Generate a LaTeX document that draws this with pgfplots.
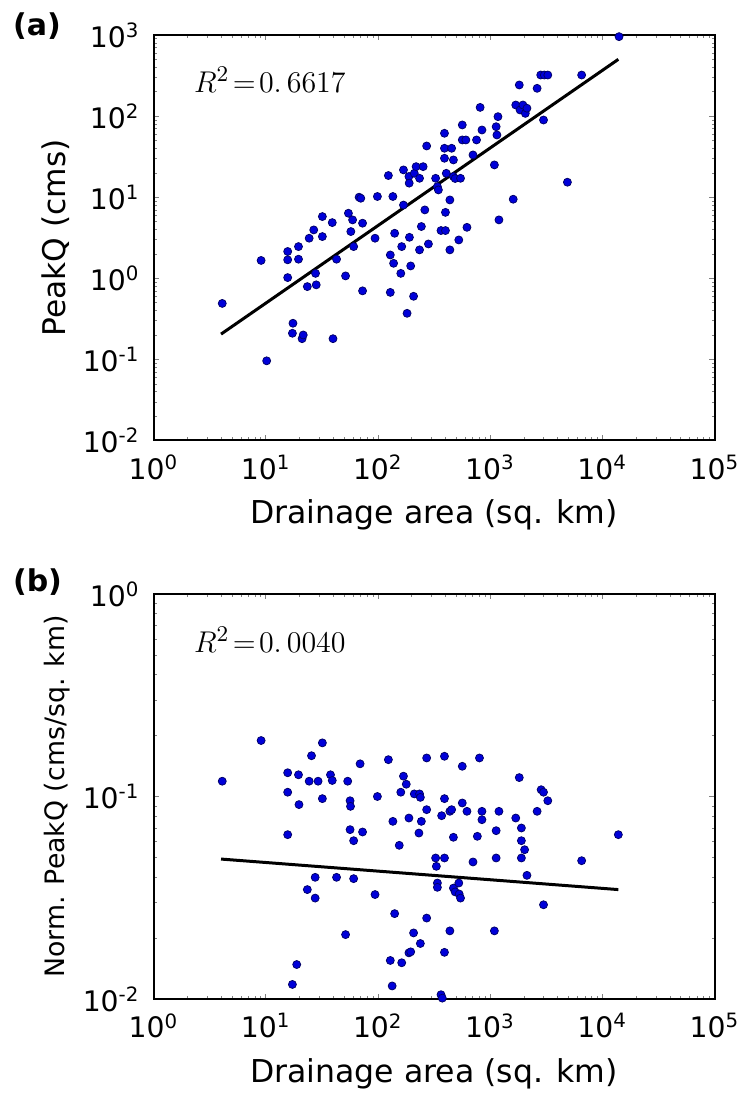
\documentclass[border=0pt]{standalone}
\usepackage{pgfplots}
\pgfplotsset{compat=1.18}
\usepackage{pgfplotstable}
\usepackage{fontspec}
\setmainfont{DejaVu Sans}

\pgfplotstableread{
A Q
4.1 0.49
9.1 1.66
10.2 0.096
15.7 2.14
15.7 1.69
15.7 1.02
19.6 2.46
19.6 1.72
17.5 0.279
17.3 0.21
21.1 0.18
21.6 0.20
23.5 0.79
24.4 3.12
26.8 3.95
28.2 0.83
27.8 1.15
32 3.27
32 5.77
39.2 4.86
39.8 0.18
42.8 1.72
51.5 1.07
54.6 6.34
59.5 5.25
57.4 3.77
60.8 2.46
68 10.0
70.4 9.7
73 4.78
73 0.70
94.3 3.12
99 10.2
124 18.5
136 10.2
141 3.59
129 0.67
129 1.94
138 1.53
163 2.46
160 1.15
169 8.0
169 21.7
182 0.37
189 18
190 14.9
191 3.2
196 1.42
208 0.60
211 19.7
219 23.8
235 17.1
235 2.24
244 4.35
253 23.8
262 6.97
272 42.8
282 2.65
327 17.1
339 13.5
346 12.3
365 3.88
392 61.4
392 40.1
392 30.2
407 19.7
400 6.5
400 3.88
438 2.24
438 9.25
454 40.1
471 28.8
471 18
488 17
526 2.97
545 17.1
565 50.8
565 77.8
608 50.8
622 4.25
704 33.2
757 50.8
815 128
846 67.4
1092 25
1132 74
1150 58.5
1175 98.4
1199 5.25
1607 9.44
1693 137
1820 242
1850 119
1960 137
2061 108
2130 125
2624 220
2825 321
3041 321
3268 321
2993 89.5
4887 15.3
6546 321
14100 954
}\dataA

\pgfplotstableread{
A N
4.1 0.119
9.1 0.189
15.7 0.131
15.7 0.105
15.7 0.0648
17.3 0.0118
18.9 0.0148
19.6 0.128
19.8 0.0912
23.5 0.0347
24.4 0.119
25.6 0.159
27.6 0.0315
27.6 0.0399
29.3 0.119
32 0.0976
32 0.184
37.8 0.128
39.2 0.120
42.8 0.0399
51.5 0.0208
53.8 0.119
56.5 0.0953
57 0.0894
56.5 0.0686
60.8 0.0605
60.8 0.0393
69.4 0.145
73 0.0668
94.3 0.0328
99 0.100
124 0.152
129 0.0155
134 0.0116
136 0.0754
141 0.0264
155 0.0574
160 0.105
163 0.0151
169 0.126
179 0.115
189 0.0783
189 0.0169
196 0.0171
208 0.0212
211 0.103
235 0.103
239 0.099
232 0.066
239 0.0188
244 0.0754
272 0.155
272 0.0861
272 0.0251
327 0.0497
332 0.0452
339 0.0374
339 0.0356
365 0.0105
375 0.0101
392 0.158
392 0.0497
392 0.0976
392 0.0170
370 0.0804
438 0.0217
438 0.0845
454 0.0861
471 0.0629
471 0.0353
488 0.0338
526 0.0374
530 0.033
545 0.0315
565 0.141
565 0.0929
622 0.0845
704 0.0475
770 0.0636
804 0.155
846 0.0845
846 0.0768
1092 0.0217
1132 0.0678
1132 0.0497
1199 0.0845
1693 0.0783
1820 0.124
1900 0.0699
1900 0.0605
1900 0.0497
2030 0.0546
2130 0.0408
2624 0.0845
2850 0.108
2993 0.105
3268 0.0953
2993 0.0292
6546 0.0482
13900 0.0648
}\dataB

\begin{document}
\begin{tikzpicture}
\useasboundingbox (0,0) rectangle (296.4pt,438.8pt);

\begin{axis}[
  at={(61.4pt,262.6pt)}, anchor=south west,
  scale only axis,
  width=224.4pt, height=162.2pt,
  xmode=log, ymode=log,
  xmin=1, xmax=100000,
  ymin=0.01, ymax=1000,
  axis line style={line width=0.8pt},
  major tick length=2.2pt,
  minor tick length=1.2pt,
  tick align=inside,
  xtick={1,10,100,1000,10000,100000},
  xticklabels={10\textsuperscript{0},10\textsuperscript{1},10\textsuperscript{2},10\textsuperscript{3},10\textsuperscript{4},10\textsuperscript{5}},
  ytick={0.01,0.1,1,10,100,1000},
  yticklabels={10\textsuperscript{-2},10\textsuperscript{-1},10\textsuperscript{0},10\textsuperscript{1},10\textsuperscript{2},10\textsuperscript{3}},
  tick label style={font=\fontsize{11.3}{13}\selectfont},
  xticklabel style={yshift=-2.2pt},
  yticklabel style={xshift=-2pt},
  xlabel={Drainage area (sq. km)},
  xlabel style={at={(axis description cs:0.5,-0.184)}, anchor=center, font=\fontsize{12.6}{14}\selectfont},
  ylabel={PeakQ (cms)},
  ylabel style={at={(axis description cs:-0.174,0.5)}, anchor=center, font=\fontsize{12.5}{14}\selectfont},
  clip=false,
]
\addplot[only marks, mark=*, mark size=1.6pt, mark options={fill=blue!85!black, draw=black!60!blue, line width=0.3pt}] table[x=A, y=Q] {\dataA};
\addplot[black, line width=1.2pt] coordinates {(4.0,0.205) (13900,501)};
\node[anchor=west, inner sep=0pt, font=\fontsize{13.2}{15}\selectfont] at (rel axis cs:0.0715,0.889) {$R^{2}\!=\!0.\,6617$};
\end{axis}

\begin{axis}[
  at={(61.4pt,39.2pt)}, anchor=south west,
  scale only axis,
  width=224.4pt, height=162.0pt,
  xmode=log, ymode=log,
  xmin=1, xmax=100000,
  ymin=0.01, ymax=1,
  axis line style={line width=0.8pt},
  major tick length=2.2pt,
  minor tick length=1.2pt,
  tick align=inside,
  xtick={1,10,100,1000,10000,100000},
  xticklabels={10\textsuperscript{0},10\textsuperscript{1},10\textsuperscript{2},10\textsuperscript{3},10\textsuperscript{4},10\textsuperscript{5}},
  ytick={0.01,0.1,1},
  yticklabels={10\textsuperscript{-2},10\textsuperscript{-1},10\textsuperscript{0}},
  tick label style={font=\fontsize{11.3}{13}\selectfont},
  xticklabel style={yshift=-2.2pt},
  yticklabel style={xshift=-2pt},
  xlabel={Drainage area (sq. km)},
  xlabel style={at={(axis description cs:0.5,-0.184)}, anchor=center, font=\fontsize{12.6}{14}\selectfont},
  ylabel={Norm. PeakQ (cms/sq. km)},
  ylabel style={at={(axis description cs:-0.172,0.5)}, anchor=center, font=\fontsize{10.7}{12}\selectfont},
  clip=false,
]
\addplot[only marks, mark=*, mark size=1.6pt, mark options={fill=blue!85!black, draw=black!60!blue, line width=0.3pt}] table[x=A, y=N] {\dataB};
\addplot[black, line width=1.2pt] coordinates {(4.0,0.0491) (13900,0.0347)};
\node[anchor=west, inner sep=0pt, font=\fontsize{13.2}{15}\selectfont] at (rel axis cs:0.0715,0.887) {$R^{2}\!=\!0.\,0040$};
\end{axis}

\node[font=\bfseries\fontsize{12}{14}\selectfont] at (14.8pt,428.4pt) {(a)};
\node[font=\bfseries\fontsize{12}{14}\selectfont] at (15.0pt,206pt) {(b)};
\end{tikzpicture}
\end{document}
